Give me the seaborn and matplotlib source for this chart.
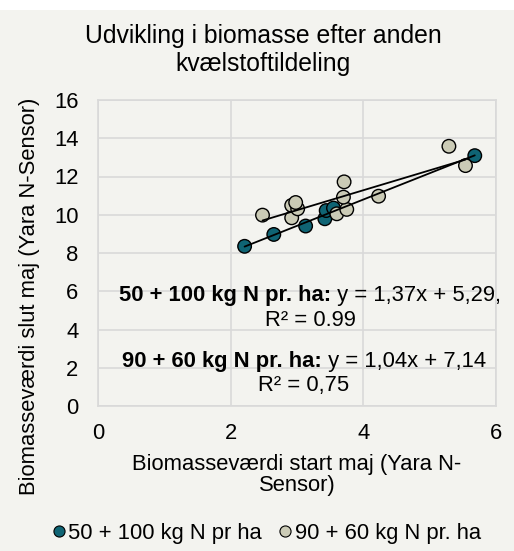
import numpy as np
import pandas as pd
import matplotlib
matplotlib.use("Agg")
import matplotlib.pyplot as plt
from matplotlib.patches import Rectangle
from matplotlib.lines import Line2D
import seaborn as sns

# ---- data ----
series_names = ["50 + 100 kg N pr ha", "90 + 60 kg N pr. ha"]
teal_x = [2.21, 2.65, 3.13, 3.42, 3.44, 3.55, 5.68]
teal_y = [8.35, 8.97, 9.41, 9.79, 10.22, 10.35, 13.09]
beige_x = [2.48, 2.92, 2.92, 3.01, 2.98, 3.60, 3.75, 3.70, 3.71, 4.23, 5.29, 5.54]
beige_y = [9.98, 9.84, 10.49, 10.31, 10.64, 10.05, 10.28, 10.92, 11.72, 10.97, 13.58, 12.57]
x_ticks = [0, 2, 4, 6]
y_ticks = [0, 2, 4, 6, 8, 10, 12, 14, 16]
title = "Udvikling i biomasse efter anden\nkvælstoftildeling"
x_label = "Biomasseværdi start maj (Yara N-\nSensor)"
y_label = "Biomasseværdi slut maj (Yara N-Sensor)"
eq_bold = ["50 + 100 kg N pr. ha:", "90 + 60 kg N pr. ha:"]
eq_rest = [" y = 1,37x + 5,29,", " y = 1,04x + 7,14"]
eq_r2 = ["R² = 0.99", "R² = 0,75"]

df = pd.DataFrame({
    "x": teal_x + beige_x,
    "y": teal_y + beige_y,
    "serie": [series_names[0]] * len(teal_x) + [series_names[1]] * len(beige_x),
})

TEAL = "#0f6474"
BEIGE = "#cbcbb6"
BG = "#f3f3ef"
GRID = "#d9d9d9"
FS = 15.8

sns.set_theme(style="white")
plt.rcParams["font.family"] = ["Liberation Sans", "DejaVu Sans"]
plt.rcParams["text.color"] = "black"

W, H = 514, 551
fig = plt.figure(figsize=(W / 100, H / 100), dpi=100, facecolor="white")
fig.patches.append(Rectangle((0, 0), 1, 1 - 10 / H, transform=fig.transFigure,
                             facecolor=BG, edgecolor="none", zorder=-10))

ax = fig.add_axes([98 / W, 1 - 406 / H, (496 - 98) / W, (406 - 100) / H])
ax.set_facecolor(BG)

sns.scatterplot(data=df, x="x", y="y", hue="serie", palette=[TEAL, BEIGE],
                s=95, edgecolor="black", linewidth=1.0, ax=ax, legend=False, zorder=3)
for xs, ys in [(teal_x, teal_y), (beige_x, beige_y)]:
    sns.regplot(x=np.array(xs), y=np.array(ys), scatter=False, ci=None, truncate=True,
                line_kws={"color": "black", "lw": 1.3, "zorder": 4}, ax=ax)

ax.set_xlim(0, 6)
ax.set_ylim(0, 16)
ax.set_xticks(x_ticks)
ax.set_yticks(y_ticks)
ax.grid(True, color=GRID, lw=1.2)
ax.set_axisbelow(True)
for s in ax.spines.values():
    s.set_color(GRID)
    s.set_linewidth(1.2)
ax.tick_params(axis="both", length=0, labelsize=FS, colors="black")
ax.tick_params(axis="x", pad=12)
ax.tick_params(axis="y", pad=14)
ax.set_xlabel("")
ax.set_ylabel("")

fig.text(263 / W, 1 - 50 / H, title, ha="center", va="center", fontsize=17.8,
         linespacing=1.2, color="black")
fig.text(297 / W, 1 - 475 / H, x_label, ha="center", va="center", fontsize=FS,
         linespacing=1.05, color="black")
fig.text(30 / W, 1 - 296 / H, y_label, ha="center", va="center", fontsize=FS,
         rotation=90, color="black")

# equations (bold + regular on one line)
fig.canvas.draw()
rend = fig.canvas.get_renderer()
line_pos = [(310, 296, 320), (304, 362, 386)]
for i, (cx, y1, y2) in enumerate(line_pos):
    tb = fig.text(0, 1 - y1 / H, eq_bold[i], fontsize=FS, fontweight="bold",
                  ha="left", va="center", color="black")
    tr = fig.text(0, 1 - y1 / H, eq_rest[i], fontsize=FS, ha="left", va="center",
                  color="black")
    wb = tb.get_window_extent(rend).width
    wr = tr.get_window_extent(rend).width
    x0 = cx - (wb + wr) / 2
    tb.set_x(x0 / W)
    tr.set_x((x0 + wb) / W)
    fig.text(cx / W, 1 - y2 / H, eq_r2[i], fontsize=FS, ha="center", va="center",
             color="black")

handles = [Line2D([], [], marker="o", ls="none", markersize=8, markerfacecolor=c,
                  markeredgecolor="black", markeredgewidth=0.8) for c in [TEAL, BEIGE]]
fig.legend(handles, series_names, loc="center", bbox_to_anchor=(265 / W, 1 - 533 / H),
           ncol=2, frameon=False, fontsize=FS, handletextpad=0.0, columnspacing=0.6,
           handlelength=0.9, labelcolor="black")

fig.savefig("out.png", dpi=100, facecolor=fig.get_facecolor())
